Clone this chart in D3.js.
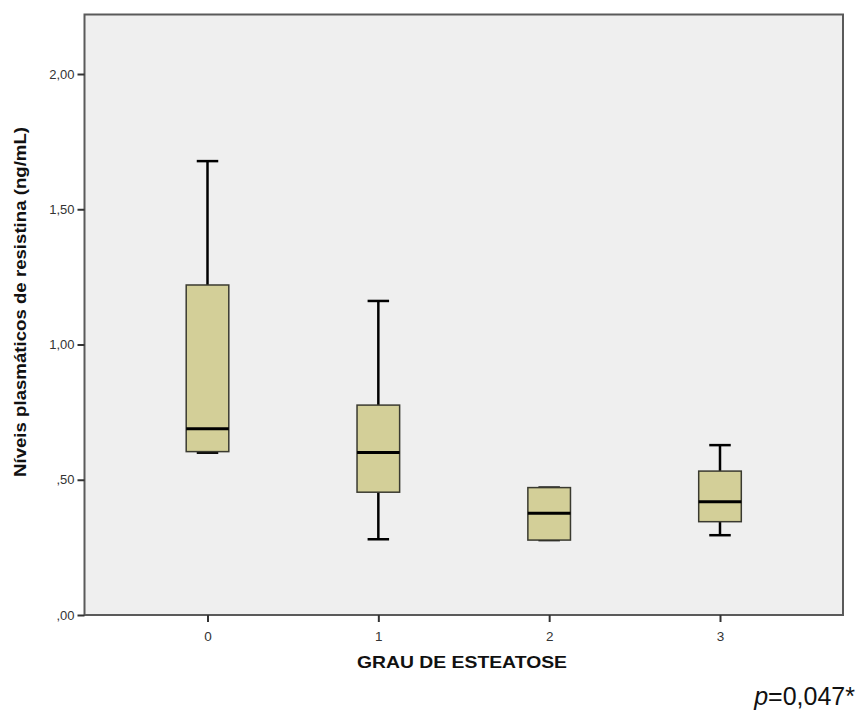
<!DOCTYPE html>
<html>
<head>
<meta charset="utf-8">
<script src="https://cdn.jsdelivr.net/npm/d3@7"></script>
<style>
  html, body { margin: 0; padding: 0; background: #ffffff; }
  svg { display: block; }
  text { font-family: "Liberation Sans", Arial, sans-serif; }
</style>
</head>
<body>
<svg id="chart" width="861" height="717"></svg>
<script>
// ---- data ----
const categories = ["0", "1", "2", "3"];
const whiskerHigh = [1.678, 1.161, 0.471, 0.628];
const q3 = [1.220, 0.776, 0.471, 0.532];
const medians = [0.689, 0.601, 0.376, 0.419];
const q1 = [0.604, 0.454, 0.277, 0.345];
const whiskerLow = [0.600, 0.280, 0.277, 0.295];
const yTickValues = [0, 0.5, 1.0, 1.5, 2.0];
const yTickLabels = [",00", ",50", "1,00", "1,50", "2,00"];
const yTitle = "Níveis plasmáticos de resistina (ng/mL)";
const xTitle = "GRAU DE ESTEATOSE";

(function () {
const groups = categories.map((c, i) => ({
  cat: c, hi: whiskerHigh[i], q3: q3[i], med: medians[i], q1: q1[i], lo: whiskerLow[i]
}));

// ---- layout ----
const svg = d3.select("#chart");
const pLeft = 84.5, pRight = 843, pTop = 14.5, pBottom = 615;

const x = d3.scalePoint().domain(categories).range([pLeft, pRight]).padding(0.72);
const y = d3.scaleLinear().domain([0, 2.22]).range([pBottom, pTop]);

// plot background + frame
svg.append("rect")
  .attr("x", pLeft).attr("y", pTop)
  .attr("width", pRight - pLeft).attr("height", pBottom - pTop)
  .attr("fill", "#efefef")
  .attr("stroke", "#5a5a5a").attr("stroke-width", 2);

// y axis
const yAxis = d3.axisLeft(y)
  .tickValues(yTickValues)
  .tickFormat((d, i) => yTickLabels[i])
  .tickSize(7).tickSizeOuter(0);
const gy = svg.append("g").attr("transform", `translate(${pLeft},0)`).call(yAxis);
gy.select(".domain").remove();
gy.selectAll(".tick line").attr("stroke", "#333").attr("stroke-width", 2);
gy.selectAll(".tick text").attr("font-size", 13).attr("fill", "#333").attr("x", -10)
  .style("font-family", "'Liberation Sans', Arial, sans-serif");

// x axis
const xAxis = d3.axisBottom(x).tickSize(7).tickSizeOuter(0);
const gx = svg.append("g").attr("transform", `translate(0,${pBottom})`).call(xAxis);
gx.select(".domain").remove();
gx.selectAll(".tick line").attr("stroke", "#333").attr("stroke-width", 2);
gx.selectAll(".tick text").attr("font-size", 13.5).attr("fill", "#333").attr("dy", "1.15em")
  .style("font-family", "'Liberation Sans', Arial, sans-serif");

// axis titles
svg.append("text")
  .attr("transform", `translate(26,${302}) rotate(-90)`)
  .attr("text-anchor", "middle")
  .attr("font-size", 17).attr("font-weight", "bold").attr("fill", "#111")
  .attr("textLength", 350).attr("lengthAdjust", "spacingAndGlyphs")
  .text(yTitle);

svg.append("text")
  .attr("x", 462).attr("y", 668)
  .attr("text-anchor", "middle")
  .attr("font-size", 16.5).attr("font-weight", "bold").attr("fill", "#111")
  .attr("textLength", 210).attr("lengthAdjust", "spacingAndGlyphs")
  .text(xTitle);

// p value
const pt = svg.append("text")
  .attr("x", 855).attr("y", 705)
  .attr("text-anchor", "end")
  .attr("font-size", 25).attr("fill", "#111");
pt.append("tspan").attr("font-style", "italic").text("p");
pt.append("tspan").text("=0,047*");

// boxplots
const boxW = 42.6, capW = 21.5;
const g = svg.append("g");
const box = g.selectAll("g.box").data(groups).join("g").attr("class", "box");

box.append("line")
  .attr("x1", d => x(d.cat)).attr("x2", d => x(d.cat))
  .attr("y1", d => y(d.hi)).attr("y2", d => y(d.q3))
  .attr("stroke", "#000").attr("stroke-width", 2.5);
box.append("line")
  .attr("x1", d => x(d.cat)).attr("x2", d => x(d.cat))
  .attr("y1", d => y(d.q1)).attr("y2", d => y(d.lo))
  .attr("stroke", "#000").attr("stroke-width", 2.5);
box.append("line")
  .attr("x1", d => x(d.cat) - capW / 2).attr("x2", d => x(d.cat) + capW / 2)
  .attr("y1", d => y(d.hi)).attr("y2", d => y(d.hi))
  .attr("stroke", "#000").attr("stroke-width", 2.5);
box.append("line")
  .attr("x1", d => x(d.cat) - capW / 2).attr("x2", d => x(d.cat) + capW / 2)
  .attr("y1", d => y(d.lo)).attr("y2", d => y(d.lo))
  .attr("stroke", "#000").attr("stroke-width", 2.5);
box.append("rect")
  .attr("x", d => x(d.cat) - boxW / 2).attr("width", boxW)
  .attr("y", d => y(d.q3)).attr("height", d => y(d.q1) - y(d.q3))
  .attr("fill", "#d3cf98").attr("stroke", "#3a3a30").attr("stroke-width", 1.5);
box.append("line")
  .attr("x1", d => x(d.cat) - boxW / 2).attr("x2", d => x(d.cat) + boxW / 2)
  .attr("y1", d => y(d.med)).attr("y2", d => y(d.med))
  .attr("stroke", "#000").attr("stroke-width", 3);
})();
</script>
</body>
</html>
